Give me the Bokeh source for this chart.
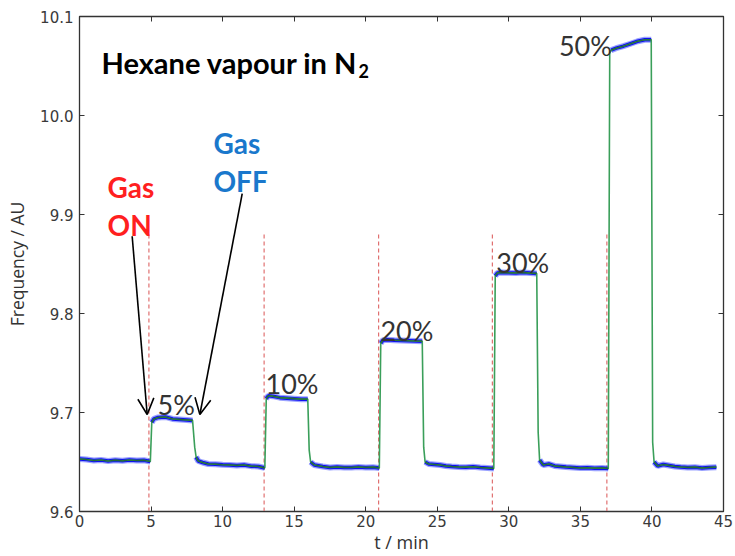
import numpy as np
from bokeh.plotting import figure
from bokeh.models import Range1d, LinearAxis, FixedTicker, Arrow, OpenHead, Label
from bokeh.embed import file_html
from bokeh.resources import INLINE

# ---- data ----
time_min = [
    0.0, 0.5, 1.0, 1.5, 2.0, 2.5, 3.0, 3.5, 4.0, 4.5, 4.95,
    5.05, 5.2, 5.5, 6.0, 6.5, 7.0, 7.5, 7.9,
    8.05, 8.15, 8.3, 8.6, 9.0, 9.5, 10.0, 10.5, 11.0, 11.5, 12.0, 12.5, 12.95,
    13.05, 13.2, 13.5, 14.0, 14.5, 15.0, 15.5, 15.95,
    16.05, 16.15, 16.4, 17.0, 17.5, 18.0, 18.5, 19.0, 19.5, 20.0, 20.5, 20.95,
    21.05, 21.2, 21.5, 22.0, 22.5, 23.0, 23.5, 23.95,
    24.05, 24.15, 24.4, 24.8, 25.2, 25.6, 26.0, 26.5, 27.0, 27.5, 28.0, 28.5, 28.95,
    29.05, 29.2, 29.5, 30.0, 30.5, 31.0, 31.5, 31.95,
    32.05, 32.15, 32.4, 32.8, 33.2, 33.6, 34.0, 34.5, 35.0, 35.5, 36.0, 36.5, 36.95,
    37.05, 37.15, 37.5, 38.0, 38.5, 39.0, 39.5, 39.95,
    40.05, 40.15, 40.4, 40.8, 41.2, 41.6, 42.0, 42.5, 43.0, 43.5, 44.0, 44.5,
]
freq_au = [
    9.6530, 9.6525, 9.6515, 9.6520, 9.6510, 9.6518, 9.6512, 9.6520, 9.6515, 9.6518, 9.6505,
    9.6900, 9.6935, 9.6950, 9.6955, 9.6935, 9.6930, 9.6925, 9.6920,
    9.6650, 9.6550, 9.6510, 9.6495, 9.6480, 9.6478, 9.6472, 9.6470, 9.6465, 9.6470, 9.6458, 9.6455, 9.6440,
    9.7140, 9.7170, 9.7165, 9.7150, 9.7145, 9.7140, 9.7135, 9.7135,
    9.6620, 9.6500, 9.6470, 9.6455, 9.6445, 9.6450, 9.6445, 9.6445, 9.6450, 9.6445, 9.6448, 9.6440,
    9.7700, 9.7730, 9.7735, 9.7730, 9.7728, 9.7725, 9.7722, 9.7720,
    9.6650, 9.6500, 9.6480, 9.6475, 9.6470, 9.6460, 9.6455, 9.6450, 9.6448, 9.6452, 9.6445, 9.6440, 9.6435,
    9.8380, 9.8410, 9.8415, 9.8412, 9.8410, 9.8415, 9.8408, 9.8405,
    9.6800, 9.6520, 9.6470, 9.6480, 9.6460, 9.6455, 9.6450, 9.6445, 9.6440, 9.6442, 9.6438, 9.6440, 9.6435,
    10.0630, 10.0660, 10.0680, 10.0700, 10.0725, 10.0750, 10.0765, 10.0765,
    9.6700, 9.6500, 9.6460, 9.6475, 9.6465, 9.6455, 9.6450, 9.6445, 9.6448, 9.6440, 9.6445, 9.6448,
]
gas_on_times = [4.85, 12.9, 20.9, 28.85, 36.85]
gas_marker_top = 9.88
pct_labels = ["5%", "10%", "20%", "30%", "50%"]
pct_x = [5.45, 13.0, 21.03, 29.12, 33.5]
pct_y = [9.708, 9.729, 9.783, 9.852, 10.071]
x_ticks = [0, 5, 10, 15, 20, 25, 30, 35, 40, 45]
y_ticks = [9.6, 9.7, 9.8, 9.9, 10.0, 10.1]

# blue trace: break it where the signal jumps (only the steady parts show the dots)
bx, by = [], []
for i in range(len(time_min)):
    if i > 0:
        slope = abs(freq_au[i] - freq_au[i - 1]) / (time_min[i] - time_min[i - 1])
        if slope > 0.03:
            bx.append(np.nan)
            by.append(np.nan)
    bx.append(time_min[i])
    by.append(freq_au[i])

p = figure(width=735, height=556, output_backend="svg", toolbar_location=None,
           x_range=Range1d(0, 45), y_range=Range1d(9.6, 10.1),
           min_border_left=79, min_border_right=12, min_border_top=16, min_border_bottom=40)
p.background_fill_color = "white"
p.border_fill_color = "white"
p.outline_line_color = "#333333"
p.outline_line_width = 1.3
p.xgrid.visible = False
p.ygrid.visible = False

tick_font = "DejaVu Sans"
for ax in (p.xaxis[0], p.yaxis[0]):
    ax.major_tick_in = 5
    ax.major_tick_out = 0
    ax.minor_tick_line_color = None
    ax.axis_line_color = "#333333"
    ax.major_tick_line_color = "#333333"
    ax.major_label_text_font = tick_font
    ax.major_label_text_font_size = "15px"
    ax.major_label_text_color = "#3a3a3a"
    ax.axis_label_text_font = "Open Sans"
    ax.axis_label_text_font_style = "normal"
    ax.axis_label_text_color = "#333333"
p.xaxis[0].ticker = FixedTicker(ticks=x_ticks)
p.yaxis[0].ticker = FixedTicker(ticks=y_ticks)
p.xaxis[0].major_label_standoff = 3
p.yaxis[0].major_label_standoff = 6
p.xaxis[0].axis_label = "t / min"
p.yaxis[0].axis_label = "Frequency / AU"
p.xaxis[0].axis_label_text_font_size = "18px"
p.yaxis[0].axis_label_text_font_size = "17.5px"
p.xaxis[0].axis_label_standoff = 0
p.yaxis[0].axis_label_standoff = 8
p.yaxis[0].major_label_overrides = {9.6: "9.6", 9.7: "9.7", 9.8: "9.8", 9.9: "9.9", 10.0: "10.0", 10.1: "10.1"}

# mirror ticks on top and right (no labels)
for loc, tk in (("above", x_ticks), ("right", y_ticks)):
    ax2 = LinearAxis(ticker=FixedTicker(ticks=tk))
    ax2.major_tick_in = 5
    ax2.major_tick_out = 0
    ax2.minor_tick_line_color = None
    ax2.major_label_text_font_size = "1px"
    ax2.major_label_text_color = None
    ax2.major_label_standoff = 0
    ax2.axis_line_color = "#333333"
    ax2.major_tick_line_color = "#333333"
    p.add_layout(ax2, loc)

# dashed "gas on" markers
p.segment(x0=gas_on_times, y0=[9.6] * len(gas_on_times), x1=gas_on_times,
          y1=[gas_marker_top] * len(gas_on_times),
          line_color="#e07070", line_dash="4 3", line_width=1.2)

# blue data band
p.line(bx, by, line_color="#2233ff", line_width=6, line_alpha=0.45)
p.line(bx, by, line_color="#0000ee", line_width=3.5, line_alpha=0.9)
# green fit line
p.line(time_min, freq_au, line_color="#3a9f5a", line_width=1.6)
p.line(bx, by, line_color="#1d5a2a", line_width=1.2, line_alpha=0.8)

# percentage labels
for txt, x, y in zip(pct_labels, pct_x, pct_y):
    p.add_layout(Label(x=x, y=y, text=txt, text_font="Lato", text_font_size="27px",
                       text_color="#333333", text_baseline="alphabetic", text_align="left"))

# title with subscript
p.add_layout(Label(x=19.43, y=10.0533, text="Hexane vapour in N", text_font="Lato",
                   text_font_style="bold", text_font_size="29px", text_color="black",
                   text_align="right", text_baseline="alphabetic"))
p.add_layout(Label(x=19.5, y=10.045, text="2", text_font="Lato",
                   text_font_style="bold", text_font_size="18px", text_color="black",
                   text_align="left", text_baseline="alphabetic"))

# gas on / off labels
red = "#ff1f1f"
blue = "#1a78cc"
for txt, y in (("Gas", 9.928), ("ON", 9.889)):
    p.add_layout(Label(x=1.96, y=y, text=txt, text_font="Lato", text_font_style="bold",
                       text_font_size="28px", text_color=red, text_baseline="alphabetic"))
for txt, y in (("Gas", 9.9727), ("OFF", 9.934)):
    p.add_layout(Label(x=9.36, y=y, text=txt, text_font="Lato", text_font_style="bold",
                       text_font_size="28px", text_color=blue, text_baseline="alphabetic"))

# arrows
p.add_layout(Arrow(end=OpenHead(size=16, line_width=1.6, line_color="black"),
                   x_start=3.68, y_start=9.878, x_end=4.73, y_end=9.698,
                   line_width=1.6, line_color="black"))
p.add_layout(Arrow(end=OpenHead(size=16, line_width=1.6, line_color="black"),
                   x_start=11.37, y_start=9.921, x_end=8.41, y_end=9.698,
                   line_width=1.6, line_color="black"))

open("out.html", "w").write(file_html(p, INLINE))
